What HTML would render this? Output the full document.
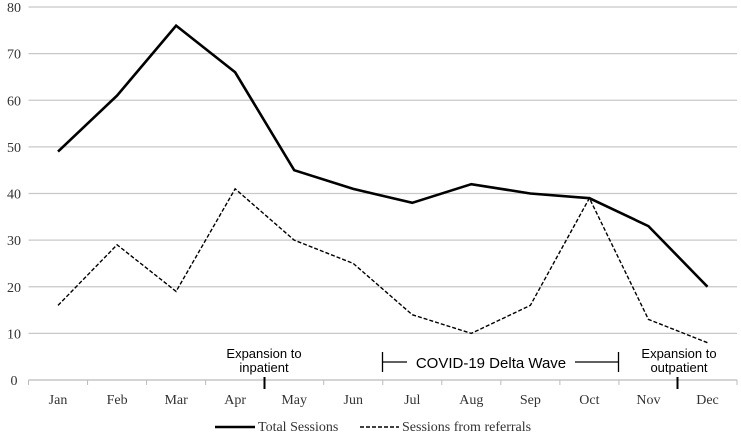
<!DOCTYPE html>
<html><head><meta charset="utf-8"><style>
html,body{margin:0;padding:0;background:#fff;}
svg{display:block;}
.ax{font-family:"Liberation Serif",serif;font-size:14px;fill:#333;}
.an{font-family:"Liberation Sans",sans-serif;font-size:13px;fill:#000;}
</style></head><body>
<svg id="chart" width="741" height="433"></svg>
<script>
const categories=["Jan","Feb","Mar","Apr","May","Jun","Jul","Aug","Sep","Oct","Nov","Dec"];
const totalSessions=[49,61,76,66,45,41,38,42,40,39,33,20];
const referralSessions=[16,29,19,41,30,25,14,10,16,39,13,8];
const yTicks=[0,10,20,30,40,50,60,70,80];
const NS="http://www.w3.org/2000/svg";
const svg=document.getElementById('chart');
const L=28.5,R=737,Y0=380,Y80=7;
const step=(R-L)/categories.length;
const x=i=>L+step*(i+0.5);
const y=v=>Y0-(v/80)*(Y0-Y80);
function mk(t,a,p){const e=document.createElementNS(NS,t);for(const k in a)e.setAttribute(k,a[k]);(p||svg).appendChild(e);return e;}
yTicks.forEach(v=>{
 if(v>0){const g=mk('line',{x1:L,x2:R,y1:y(v),y2:y(v),stroke:'#c8c8c8','stroke-width':1.3});
 
 }
 const t=mk('text',{x:14,y:y(v)+5,'text-anchor':'middle',class:'ax'});t.textContent=v;
 
 
});
const axis=mk('line',{x1:L,x2:R,y1:Y0,y2:Y0,stroke:'#bbb','stroke-width':1.3});


for(let i=0;i<=categories.length;i++){mk('line',{x1:L+step*i,x2:L+step*i,y1:Y0,y2:Y0+5,stroke:'#bbb'});}
categories.forEach((c,i)=>{const t=mk('text',{x:x(i),y:404,'text-anchor':'middle',class:'ax'});t.textContent=c;
 
 });
function series(arr,dash,name){const p=mk('polyline',{points:arr.map((v,i)=>x(i)+','+y(v)).join(' '),fill:'none',stroke:'#000','stroke-width':dash?1.4:2.6,'stroke-dasharray':dash?'4,2':'none','stroke-linejoin':'miter'});
 
 }
series(referralSessions,true,'series-referrals');
series(totalSessions,false,'series-total-sessions');
const ann=mk('g',{});


mk('line',{x1:264.5,x2:264.5,y1:377,y2:389,stroke:'#000','stroke-width':2},ann);
mk('line',{x1:677.5,x2:677.5,y1:377,y2:389,stroke:'#000','stroke-width':2},ann);
[["Expansion to",264,358],["inpatient",264,372],["Expansion to",679,358],["outpatient",679,372]].forEach(a=>{const t=mk('text',{x:a[1],y:a[2],'text-anchor':'middle',class:'an'},ann);t.textContent=a[0];});
mk('line',{x1:382.5,x2:382.5,y1:352,y2:372,stroke:'#000','stroke-width':1.3},ann);
mk('line',{x1:382.5,x2:407,y1:362,y2:362,stroke:'#000','stroke-width':1.3},ann);
mk('line',{x1:575,x2:618.5,y1:362,y2:362,stroke:'#000','stroke-width':1.3},ann);
mk('line',{x1:618.5,x2:618.5,y1:352,y2:372,stroke:'#000','stroke-width':1.3},ann);
const dw=mk('text',{x:491,y:368,'text-anchor':'middle',class:'an'},ann);dw.textContent="COVID-19 Delta Wave";dw.style.fontSize='15px';
const lg=mk('g',{});


mk('line',{x1:215,x2:255,y1:427,y2:427,stroke:'#000','stroke-width':2.6},lg);
const t1=mk('text',{x:258,y:431,class:'ax'},lg);t1.textContent="Total Sessions";
mk('line',{x1:360,x2:399,y1:427,y2:427,stroke:'#000','stroke-width':1.4,'stroke-dasharray':'4,2'},lg);
const t2=mk('text',{x:402,y:431,class:'ax'},lg);t2.textContent="Sessions from referrals";
</script>
</body></html>
